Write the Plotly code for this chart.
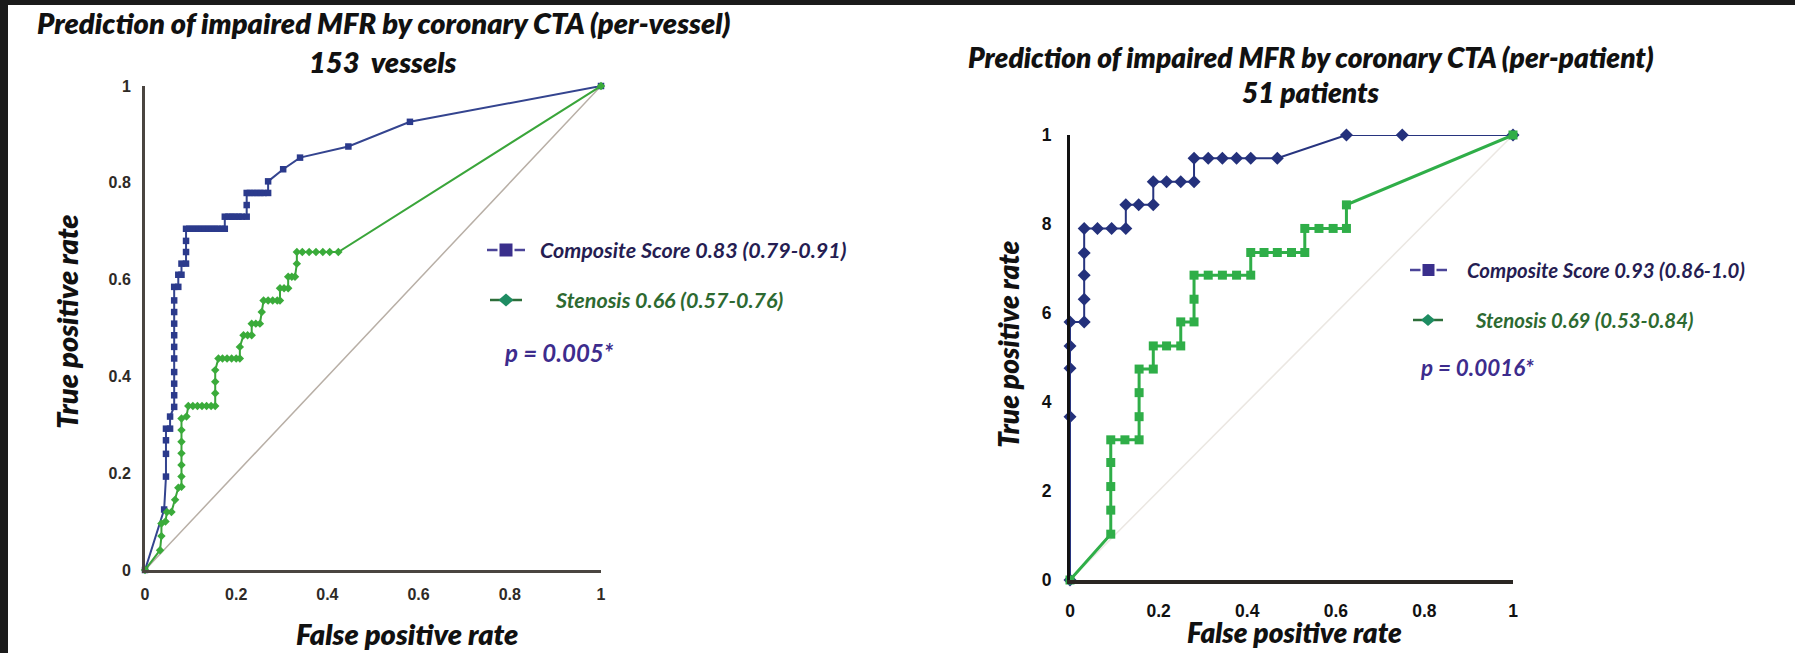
import plotly.graph_objects as go

W, H = 1795, 653

# ---------------- data ----------------
ticks = [0, 0.2, 0.4, 0.6, 0.8, 1]
x_tick_text = ["0", "0.2", "0.4", "0.6", "0.8", "1"]
left_y_tick_text = ["0", "0.2", "0.4", "0.6", "0.8", "1"]
right_y_tick_text = ["0", "2", "4", "6", "8", "1"]

vessel_comp_fpr = [0, 0.042, 0.046, 0.046, 0.046, 0.046, 0.055, 0.055, 0.064, 0.064, 0.064, 0.064,
                   0.064, 0.064, 0.064, 0.064, 0.064, 0.064, 0.064, 0.073, 0.073, 0.080, 0.080,
                   0.090, 0.090, 0.090, 0.090, 0.097, 0.104, 0.111, 0.118, 0.125, 0.132, 0.139,
                   0.146, 0.153, 0.160, 0.168, 0.175, 0.175, 0.183, 0.190, 0.197, 0.205, 0.212,
                   0.223, 0.223, 0.223, 0.230, 0.238, 0.245, 0.253, 0.260, 0.270, 0.270, 0.303,
                   0.340, 0.446, 0.581, 1.0]
vessel_comp_tpr = [0, 0.125, 0.193, 0.240, 0.268, 0.292, 0.292, 0.317, 0.337, 0.361, 0.385, 0.409,
                   0.437, 0.461, 0.485, 0.509, 0.533, 0.557, 0.585, 0.585, 0.610, 0.610, 0.633,
                   0.633, 0.657, 0.680, 0.705, 0.705, 0.705, 0.705, 0.705, 0.705, 0.705, 0.705,
                   0.705, 0.705, 0.705, 0.705, 0.705, 0.730, 0.730, 0.730, 0.730, 0.730, 0.730,
                   0.730, 0.754, 0.779, 0.779, 0.779, 0.779, 0.779, 0.779, 0.779, 0.803, 0.828,
                   0.852, 0.875, 0.926, 1.0]

vessel_sten_fpr = [0, 0.033, 0.036, 0.036, 0.045, 0.048, 0.058, 0.066, 0.073, 0.080, 0.080, 0.080,
                   0.080, 0.080, 0.080, 0.080, 0.091, 0.095, 0.105, 0.115, 0.125, 0.135, 0.145,
                   0.154, 0.154, 0.154, 0.154, 0.161, 0.170, 0.180, 0.190, 0.200, 0.208, 0.208,
                   0.216, 0.225, 0.234, 0.234, 0.243, 0.252, 0.256, 0.260, 0.270, 0.280, 0.290,
                   0.296, 0.296, 0.305, 0.314, 0.314, 0.322, 0.329, 0.333, 0.333, 0.345, 0.360,
                   0.375, 0.390, 0.405, 0.424, 1.0]
vessel_sten_tpr = [0, 0.041, 0.070, 0.096, 0.100, 0.120, 0.120, 0.145, 0.170, 0.172, 0.193, 0.217,
                   0.241, 0.265, 0.289, 0.313, 0.317, 0.339, 0.339, 0.339, 0.339, 0.339, 0.339,
                   0.339, 0.365, 0.389, 0.413, 0.437, 0.437, 0.437, 0.437, 0.437, 0.437, 0.461,
                   0.485, 0.485, 0.485, 0.509, 0.509, 0.509, 0.533, 0.557, 0.557, 0.557, 0.557,
                   0.557, 0.582, 0.582, 0.582, 0.606, 0.606, 0.606, 0.633, 0.657, 0.657, 0.657,
                   0.657, 0.657, 0.657, 0.657, 1.0]

patient_comp_fpr = [0, 0, 0, 0, 0, 0.032, 0.032, 0.032, 0.032, 0.032, 0.062, 0.094, 0.126, 0.126,
                    0.155, 0.188, 0.188, 0.218, 0.250, 0.280, 0.280, 0.312, 0.344, 0.376, 0.408,
                    0.468, 0.624, 0.750, 1.0]
patient_comp_tpr = [0, 0.367, 0.476, 0.526, 0.580, 0.580, 0.631, 0.685, 0.735, 0.790, 0.790, 0.790,
                    0.790, 0.843, 0.843, 0.843, 0.895, 0.895, 0.895, 0.895, 0.948, 0.948, 0.948,
                    0.948, 0.948, 0.948, 1.0, 1.0, 1.0]

patient_sten_fpr = [0, 0.092, 0.092, 0.092, 0.092, 0.092, 0.124, 0.156, 0.156, 0.156, 0.156, 0.188,
                    0.188, 0.218, 0.250, 0.250, 0.280, 0.280, 0.280, 0.312, 0.344, 0.376, 0.408,
                    0.408, 0.438, 0.468, 0.500, 0.530, 0.530, 0.562, 0.594, 0.624, 0.624, 1.0]
patient_sten_tpr = [0, 0.103, 0.157, 0.210, 0.264, 0.315, 0.315, 0.315, 0.367, 0.421, 0.474, 0.474,
                    0.526, 0.526, 0.526, 0.580, 0.580, 0.631, 0.685, 0.685, 0.685, 0.685, 0.685,
                    0.736, 0.736, 0.736, 0.736, 0.736, 0.790, 0.790, 0.790, 0.790, 0.843, 1.0]

chance = [0, 1]

# ---------------- helpers ----------------
def px(x):
    return x / W

def py(y):
    return 1 - y / H

FONT = "Lato"
NAVY = "#2b3a8c"
GREEN = "#3aab3a"

fig = go.Figure()

# left chart
fig.add_trace(go.Scatter(x=chance, y=chance, mode="lines", line=dict(color="#b8afa6", width=1.5),
                         xaxis="x", yaxis="y", hoverinfo="skip"))
fig.add_trace(go.Scatter(x=vessel_comp_fpr, y=vessel_comp_tpr, mode="lines+markers",
                         line=dict(color="#34448f", width=2),
                         marker=dict(symbol="square", size=6.5, color=NAVY),
                         xaxis="x", yaxis="y", cliponaxis=False))
fig.add_trace(go.Scatter(x=vessel_sten_fpr, y=vessel_sten_tpr, mode="lines+markers",
                         line=dict(color="#3aa53a", width=2),
                         marker=dict(symbol="diamond", size=6.5, color=GREEN),
                         xaxis="x", yaxis="y", cliponaxis=False))

# right chart
fig.add_trace(go.Scatter(x=chance, y=chance, mode="lines", line=dict(color="#ebe7e2", width=1.5),
                         xaxis="x2", yaxis="y2", hoverinfo="skip"))
fig.add_trace(go.Scatter(x=patient_comp_fpr, y=patient_comp_tpr, mode="lines+markers",
                         line=dict(color="#27347f", width=2),
                         marker=dict(symbol="diamond", size=10, color="#24317c"),
                         xaxis="x2", yaxis="y2", cliponaxis=False))
fig.add_trace(go.Scatter(x=patient_sten_fpr, y=patient_sten_tpr, mode="lines+markers",
                         line=dict(color="#2fae48", width=3),
                         marker=dict(symbol="square", size=9, color="#2fae48"),
                         xaxis="x2", yaxis="y2", cliponaxis=False))

tickfont_left = dict(family="Liberation Sans", size=16, color="#2e2a26", weight="bold")
tickfont_right = dict(family="Liberation Sans", size=17.5, color="#111111", weight="bold")

common = dict(range=[0, 1], showgrid=False, zeroline=False, ticks="", tickvals=ticks,
              showline=True, fixedrange=True, automargin=False)

fig.update_layout(
    height=H, autosize=True, margin=dict(l=0, r=0, t=0, b=0, pad=0),
    paper_bgcolor="white", plot_bgcolor="white", showlegend=False,
    xaxis=dict(domain=[px(145), px(601)], anchor="y", ticktext=x_tick_text,
               linecolor="#4a4540", linewidth=3, tickfont=tickfont_left,
               ticklabelstandoff=8, **common),
    yaxis=dict(domain=[py(570), py(86)], anchor="x", ticktext=left_y_tick_text,
               linecolor="#4a4540", linewidth=3, tickfont=tickfont_left,
               ticklabelstandoff=8, **common),
    xaxis2=dict(domain=[px(1070), px(1513)], anchor="y2", ticktext=x_tick_text,
                linecolor="#2a2622", linewidth=4, tickfont=tickfont_right,
                ticklabelstandoff=12, **common),
    yaxis2=dict(domain=[py(580), py(135)], anchor="x2", ticktext=right_y_tick_text,
                linecolor="#111111", linewidth=3, tickfont=tickfont_right,
                ticklabelstandoff=12, **common),
)

ann = []
def text(x, y, s, size, color="#111111", angle=0, xanchor="center", weight=800):
    ann.append(dict(x=px(x), y=py(y), xref="paper", yref="paper", text=s, showarrow=False,
                    xanchor=xanchor, yanchor="middle", textangle=angle,
                    font=dict(family=FONT, size=size, color=color, weight=weight, style="italic")))

# titles
text(384, 23, "Prediction of impaired MFR by coronary CTA (per-vessel)", 29)
text(383, 61, "153&nbsp;&nbsp;vessels", 29)
text(1311, 57, "Prediction of impaired MFR by coronary CTA (per-patient)", 28)
text(1311, 92, "51 patients", 28)

# axis titles
text(407, 633, "False positive rate", 29)
text(66, 322, "True positive rate", 29, angle=-90)
text(1294, 632, "False positive rate", 28)
text(1008, 345, "True positive rate", 28, angle=-90)

# legends
text(538, 250, "Composite Score 0.83 (0.79-0.91)", 21.5, color="#251d52", xanchor="left", weight=700)
text(553, 300, "Stenosis 0.66 (0.57-0.76)", 21.5, color="#2d6a31", xanchor="left", weight=700)
text(502, 352, "p = 0.005*", 24, color="#3d2c8d", xanchor="left", weight=700)
text(1465, 270, "Composite Score 0.93 (0.86-1.0)", 20.4, color="#251d52", xanchor="left", weight=700)
text(1473, 320, "Stenosis 0.69 (0.53-0.84)", 20.4, color="#2d6a31", xanchor="left", weight=700)
text(1418, 367, "p = 0.0016*", 22.4, color="#3d2c8d", xanchor="left", weight=700)

fig.update_layout(annotations=ann)

shapes = []
# dark frame bands (top / left)
shapes.append(dict(type="rect", xref="paper", yref="paper", x0=0, x1=1, y0=py(5), y1=1,
                   fillcolor="#1b1b1b", line=dict(width=0), layer="above"))
shapes.append(dict(type="rect", xref="paper", yref="paper", x0=0, x1=px(8), y0=0, y1=1,
                   fillcolor="#1b1b1b", line=dict(width=0), layer="above"))

def hline(x0, x1, y, color):
    shapes.append(dict(type="line", xref="paper", yref="paper", x0=px(x0), x1=px(x1),
                       y0=py(y), y1=py(y), line=dict(color=color, width=2.5)))

def legend_symbol(x0, x1, y, kind, line_color, fill, half):
    cx = (x0 + x1) / 2
    if kind == "square":
        hline(x0, cx - half - 2, y, line_color)
        hline(cx + half + 2, x1, y, line_color)
        shapes.append(dict(type="rect", xref="paper", yref="paper", x0=px(cx - half), x1=px(cx + half),
                           y0=py(y + half), y1=py(y - half), fillcolor=fill, line=dict(width=0)))
    else:
        hline(x0, x1, y, line_color)
        path = "M {} {} L {} {} L {} {} L {} {} Z".format(
            px(cx - half - 1), py(y), px(cx), py(y - half), px(cx + half + 1), py(y), px(cx), py(y + half))
        shapes.append(dict(type="path", xref="paper", yref="paper", path=path,
                           fillcolor=fill, line=dict(width=0)))

legend_symbol(487, 525, 250, "square", "#4b4498", "#3a2f8c", 6.5)
legend_symbol(490, 522, 300, "diamond", "#2d6e3a", "#1e8c62", 6.5)
legend_symbol(1410, 1447, 270, "square", "#4b4498", "#3a2f8c", 6)
legend_symbol(1413, 1443, 320, "diamond", "#2d6e3a", "#1e8c62", 6)

fig.update_layout(shapes=shapes)

css_fix = (
    "var s=document.createElement('style');"
    "s.innerHTML='html,body{margin:0!important;padding:0!important;overflow:hidden!important;"
    "background:#ffffff;width:100%;height:653px;} body>div{margin:0;padding:0;line-height:0;}';"
    "document.head.appendChild(s);"
    "var gd=document.getElementById('{plot_id}');"
    "if(window.Plotly&&gd){Plotly.Plots.resize(gd);}"
)

fig.write_html("out.html", config={"displayModeBar": False, "responsive": True},
               default_width="100%", default_height="653px", post_script=css_fix)
